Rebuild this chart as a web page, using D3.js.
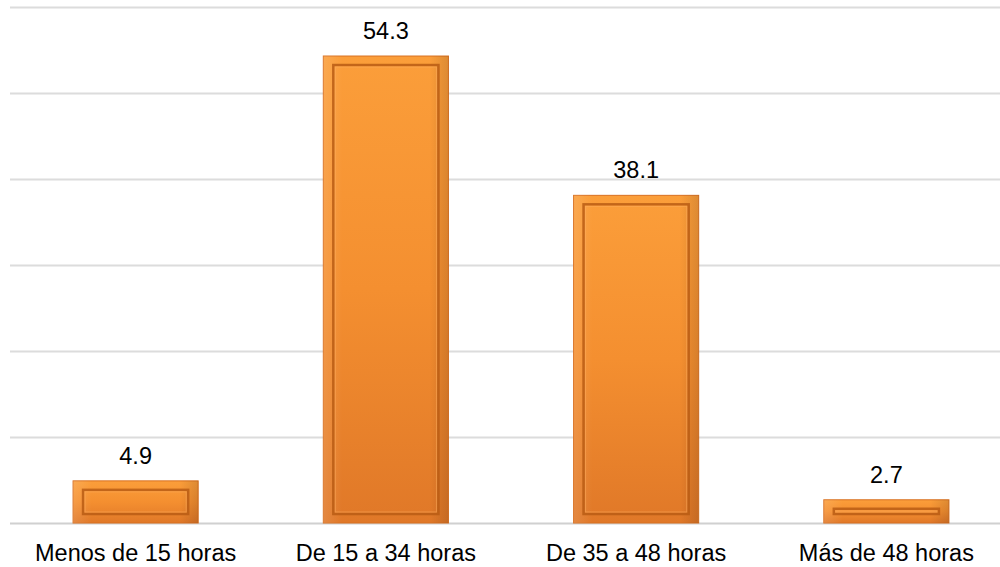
<!DOCTYPE html>
<html><head><meta charset="utf-8">
<script src="https://cdn.jsdelivr.net/npm/d3@7"></script>
<style>body{margin:0;background:#fff}svg{display:block}text{font-family:"Liberation Sans",Arial,sans-serif}</style>
</head><body>
<svg id="c" width="1000" height="567"></svg>
<script>
const categories = ["Menos de 15 horas","De 15 a 34 horas","De 35 a 48 horas","Más de 48 horas"];
const values = [4.9, 54.3, 38.1, 2.7];
const yTicks = [0,10,20,30,40,50,60];

const svg = d3.select("#c");
const x = d3.scaleBand().domain(categories).range([10.5, 1011.5]).paddingInner(0.5).paddingOuter(0.25);
const y = d3.scaleLinear().domain([0,60]).range([523,7]);

const defs = svg.append("defs");
const g = defs.append("linearGradient").attr("id","bg").attr("x1",0).attr("y1",0).attr("x2",0).attr("y2",1);
g.append("stop").attr("offset","0%").attr("stop-color","#FB9E3A");
g.append("stop").attr("offset","50%").attr("stop-color","#F48F30");
g.append("stop").attr("offset","100%").attr("stop-color","#E07828");
const gh = defs.append("linearGradient").attr("id","bh").attr("x1",0).attr("y1",0).attr("x2",1).attr("y2",0);
gh.append("stop").attr("offset","0%").attr("stop-color","#fff").attr("stop-opacity",0.12);
gh.append("stop").attr("offset","15%").attr("stop-color","#fff").attr("stop-opacity",0);
gh.append("stop").attr("offset","85%").attr("stop-color","#000").attr("stop-opacity",0);
gh.append("stop").attr("offset","100%").attr("stop-color","#000").attr("stop-opacity",0.12);

// gridlines
svg.append("g").selectAll("line").data(yTicks).join("line")
  .attr("x1",10).attr("x2",1000)
  .attr("y1",d=>Math.round(y(d))+0.5).attr("y2",d=>Math.round(y(d))+0.5)
  .attr("stroke",d=>d===0?"#d0d0d0":"#dcdcdc").attr("stroke-width",2);

const bars = svg.append("g").selectAll("g").data(categories).join("g");
bars.append("rect")
  .attr("x",d=>x(d)).attr("width",x.bandwidth())
  .attr("y",(d,i)=>y(values[i])).attr("height",(d,i)=>y(0)-y(values[i]))
  .attr("fill","url(#bg)").attr("stroke","#D87020").attr("stroke-width",1);
bars.append("rect")
  .attr("x",d=>x(d)).attr("width",x.bandwidth())
  .attr("y",(d,i)=>y(values[i])).attr("height",(d,i)=>y(0)-y(values[i]))
  .attr("fill","url(#bh)");
// inner bevel frame
bars.append("rect")
  .attr("x",d=>x(d)+10).attr("width",x.bandwidth()-20)
  .attr("y",(d,i)=>y(values[i])+9).attr("height",(d,i)=>Math.max(2,y(0)-y(values[i])-18))
  .attr("fill","none").attr("stroke","#B85C14").attr("stroke-width",2.5).attr("stroke-opacity",0.85);
bars.append("rect")
  .attr("x",d=>x(d)+12).attr("width",x.bandwidth()-24)
  .attr("y",(d,i)=>y(values[i])+11).attr("height",(d,i)=>Math.max(1,y(0)-y(values[i])-22))
  .attr("fill","none").attr("stroke","#FFB060").attr("stroke-width",1).attr("stroke-opacity",0.5);

// value labels
svg.append("g").selectAll("text").data(categories).join("text")
  .attr("x",d=>x(d)+x.bandwidth()/2).attr("y",(d,i)=>y(values[i])-17)
  .attr("text-anchor","middle").attr("font-size",23.5).attr("fill","#000")
  .text((d,i)=>values[i].toFixed(1));

// category axis labels
svg.append("g").selectAll("text").data(categories).join("text")
  .attr("x",d=>x(d)+x.bandwidth()/2).attr("y",561)
  .attr("text-anchor","middle").attr("font-size",23.5).attr("fill","#000")
  .text(d=>d);
</script>
</body></html>
